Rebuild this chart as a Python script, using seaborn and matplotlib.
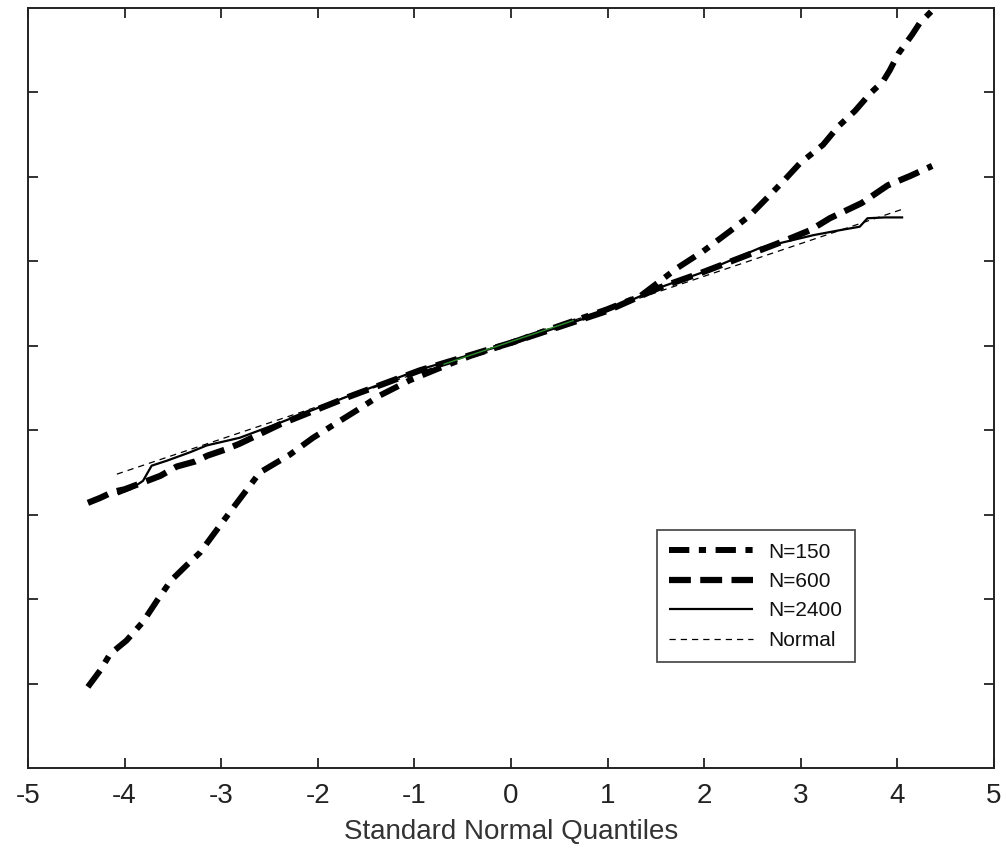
import matplotlib
matplotlib.use("Agg")
import matplotlib.pyplot as plt
import seaborn as sns
import numpy as np

# Quantile-quantile curves: standard normal quantiles vs. sample quantiles
q150 = [-4.38, -4.25, -4.15, -3.98, -3.81, -3.66, -3.52, -3.35, -3.22, -2.91,
        -2.60, -2.29, -2.05, -1.80, -1.59, -1.36, -1.05, -0.73, -0.42, 0.00,
        0.51, 0.99, 1.34, 1.72, 1.99, 2.27, 2.47, 2.65, 2.82, 2.99,
        3.23, 3.39, 3.56, 3.72, 3.85, 3.92, 4.01, 4.15, 4.23, 4.36, 4.49]
v150 = [-4.04, -3.84, -3.65, -3.49, -3.27, -3.01, -2.78, -2.59, -2.45, -1.97,
        -1.50, -1.29, -1.09, -0.91, -0.76, -0.59, -0.41, -0.26, -0.12, 0.035,
        0.24, 0.43, 0.59, 0.92, 1.12, 1.36, 1.54, 1.75, 1.95, 2.16,
        2.38, 2.60, 2.78, 2.99, 3.13, 3.26, 3.46, 3.68, 3.82, 3.97, 4.17]

q600 = [-4.38, -4.25, -4.12, -4.00, -3.79, -3.63, -3.46, -3.27, -3.14, -2.96,
        -2.81, -2.39, -1.67, -0.94, 0.00, 0.99, 1.54, 1.96, 2.37, 2.78,
        3.10, 3.30, 3.63, 3.90, 4.13, 4.36]
v600 = [-1.86, -1.80, -1.73, -1.70, -1.61, -1.54, -1.43, -1.37, -1.30, -1.23,
        -1.16, -0.93, -0.60, -0.29, 0.035, 0.41, 0.69, 0.86, 1.04, 1.22,
        1.37, 1.51, 1.69, 1.90, 2.01, 2.13]

q2400 = [-4.07, -3.94, -3.81, -3.72, -3.56, -3.32, -3.15, -2.81, -2.39, -1.67,
         -0.94, 0.00, 0.99, 1.54, 1.96, 2.58, 3.13, 3.41, 3.61, 3.69,
         3.87, 4.06]
v2400 = [-1.76, -1.70, -1.60, -1.42, -1.36, -1.26, -1.18, -1.09, -0.91, -0.59,
         -0.28, 0.035, 0.41, 0.69, 0.86, 1.16, 1.31, 1.37, 1.41, 1.51,
         1.52, 1.52]

qnorm = [-4.08, 0.00, 4.06]
vnorm = [-1.52, 0.05, 1.62]

# short reference segment near the centre
qref = [-0.70, 0.00, 0.65]
vref = [-0.22, 0.05, 0.30]

labels = ["N=150", "N=600", "N=2400", "Normal"]
xticks = [-5, -4, -3, -2, -1, 0, 1, 2, 3, 4, 5]
yticks = [-4, -3, -2, -1, 0, 1, 2, 3]

sns.set_theme(style="white")
plt.rcParams["font.family"] = ["Liberation Sans", "DejaVu Sans"]

fig = plt.figure(figsize=(10.06, 8.52), dpi=100)
ax = fig.add_axes([28 / 1006, 1 - 768 / 852, 966 / 1006, 760 / 852])

common = dict(ax=ax, color="black", estimator=None, sort=False)
sns.lineplot(x=q150, y=v150, linewidth=4.3,
             linestyle=(0, (3.4, 1.6, 1.2, 1.6)), label=labels[0], **common)
sns.lineplot(x=q600, y=v600, linewidth=4.5,
             linestyle=(0, (3.5, 1.5)), label=labels[1], **common)
sns.lineplot(x=q2400, y=v2400, linewidth=1.6,
             linestyle="-", label=labels[2], **common)
sns.lineplot(x=qnorm, y=vnorm, linewidth=0.9,
             linestyle=(0, (5, 4)), label=labels[3], **common)
sns.lineplot(x=qref, y=vref, ax=ax, color="#2e8b2e", linewidth=1.0,
             estimator=None, sort=False, legend=False)

for ln in ax.get_lines():
    ln.set_dash_capstyle("butt")
    ln.set_solid_capstyle("butt")

ax.set_xlim(-5, 5)
ax.set_ylim(-5, 4)
ax.set_xticks(xticks)
ax.set_xticklabels([str(t) for t in xticks])
ax.set_yticks(yticks)
ax.set_yticklabels([])
ax.tick_params(axis="both", direction="in", length=7, width=1.3,
               color="#222222", top=True, right=True, left=True, bottom=True,
               labelsize=20, pad=11, labelcolor="#222222")
ax.set_xlabel("Standard Normal Quantiles", fontsize=20, color="#333333",
              labelpad=7)
ax.set_ylabel("")
for sp in ax.spines.values():
    sp.set_color("#222222")
    sp.set_linewidth(1.4)

leg = ax.legend(loc="upper left", bbox_to_anchor=(0.651, 0.313),
                borderaxespad=0, frameon=True, fancybox=False, shadow=False,
                fontsize=15, handlelength=4.0, handletextpad=0.75,
                labelspacing=0.5, borderpad=0.6)
leg.get_frame().set_edgecolor("#222222")
leg.get_frame().set_linewidth(1.3)
for t in leg.get_texts():
    t.set_color("#111111")

fig.savefig("out.png", dpi=100, facecolor="white")
